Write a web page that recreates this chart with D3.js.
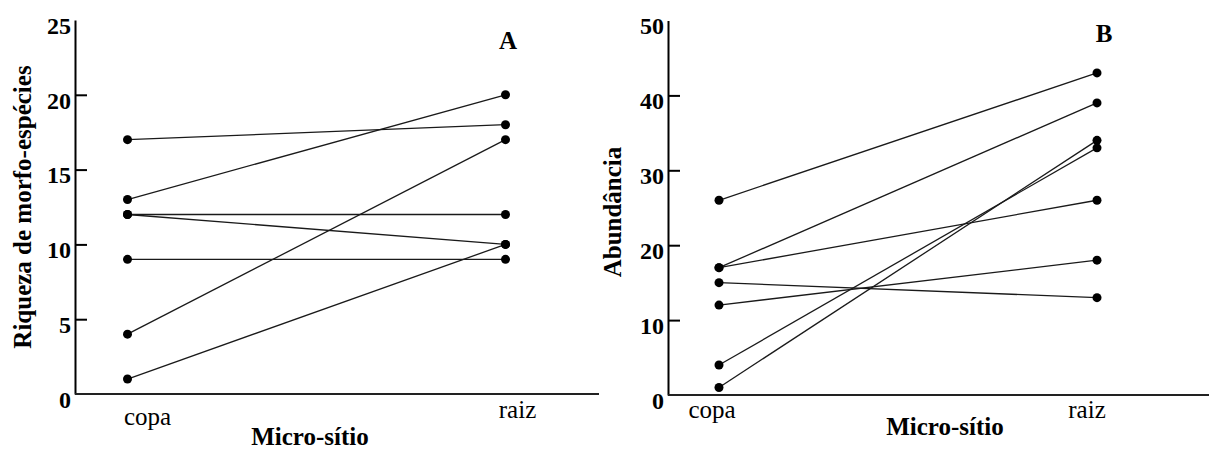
<!DOCTYPE html>
<html>
<head>
<meta charset="utf-8">
<script src="https://cdn.jsdelivr.net/npm/d3@7"></script>
<style>
  body { margin: 0; background: #fff; }
  svg { display: block; font-family: "Liberation Serif", "Times New Roman", serif; }
</style>
</head>
<body>
<svg id="chart" width="1209" height="457"></svg>
<script>
// categories shared by both panels
const sites = ["copa", "raiz"];

// panel A: richness of morpho-species, one pair [copa, raiz] per line
const richnessCopa = [17, 13, 12, 12, 9, 4, 1];
const richnessRaiz = [18, 20, 12, 10, 9, 17, 10];
const richnessTicks = [0, 5, 10, 15, 20, 25];

// panel B: abundance
const abundCopa = [26, 17, 17, 15, 12, 4, 1];
const abundRaiz = [43, 39, 26, 13, 18, 33, 34];
const abundTicks = [0, 10, 20, 30, 40, 50];

const svg = d3.select("#chart");

function drawPanel(cfg) {
    const g = svg.append("g");

    const y = d3.scaleLinear().domain(cfg.yDomain).range([cfg.y0, cfg.y1]);
    const x = d3.scalePoint().domain(sites).range([cfg.xCopa, cfg.xRaiz]);

    // y axis, ticks pointing inward, no tick at the ends
    const yAxis = g.append("g")
        .attr("transform", `translate(${cfg.axisX},0)`)
        .call(d3.axisLeft(y).tickValues(cfg.ticks).tickSize(-12).tickSizeOuter(0).tickPadding(4))
        .attr("font-family", "Liberation Serif, Times New Roman, serif");
    yAxis.select(".domain").attr("stroke", "#000").attr("stroke-width", 2);
    yAxis.selectAll(".tick line")
        .attr("stroke", "#000")
        .attr("stroke-width", 2)
        .attr("x2", (d) => (d === cfg.yDomain[0] || d === cfg.yDomain[1]) ? 0 : 12);
    yAxis.selectAll(".tick text")
        .attr("dy", "0.55em")
        .style("font-size", "24px")
        .style("font-weight", "bold")
        .attr("fill", "#000");

    // x axis line, no ticks
    g.append("line")
        .attr("x1", cfg.axisX).attr("x2", cfg.axisEnd)
        .attr("y1", y(0)).attr("y2", y(0))
        .attr("stroke", "#222").attr("stroke-width", 2);

    // category labels
    g.selectAll("text.cat")
        .data(sites)
        .enter()
        .append("text")
        .attr("class", "cat")
        .attr("x", (d, i) => x(d) + cfg.labelDx[i])
        .attr("y", (d, i) => cfg.labelY[i])
        .attr("text-anchor", "middle")
        .style("font-size", "25px")
        .text((d) => d);

    // x title
    g.append("text")
        .attr("x", cfg.xTitleX).attr("y", cfg.xTitleY)
        .attr("text-anchor", "middle")
        .style("font-size", "25px").style("font-weight", "bold")
        .text("Micro-sítio");

    // y title
    g.append("text")
        .attr("transform", `translate(${cfg.yTitleX},${cfg.yTitleY}) rotate(-90)`)
        .attr("text-anchor", "middle")
        .style("font-size", "25px").style("font-weight", "bold")
        .text(cfg.yTitle);

    // panel letter
    g.append("text")
        .attr("x", cfg.letterX).attr("y", cfg.letterY)
        .attr("text-anchor", "middle")
        .style("font-size", "25px").style("font-weight", "bold")
        .text(cfg.letter);

    const pairs = cfg.copa.map((v, i) => [v, cfg.raiz[i]]);

    g.selectAll("line.pair")
        .data(pairs)
        .enter()
        .append("line")
        .attr("class", "pair")
        .attr("x1", x("copa")).attr("x2", x("raiz"))
        .attr("y1", (d) => y(d[0])).attr("y2", (d) => y(d[1]))
        .attr("stroke", "#1a1a1a").attr("stroke-width", 1.3);

    const pts = pairs.flatMap((d) => [{s: "copa", v: d[0]}, {s: "raiz", v: d[1]}]);
    g.selectAll("circle")
        .data(pts)
        .enter()
        .append("circle")
        .attr("cx", (d) => x(d.s))
        .attr("cy", (d) => y(d.v))
        .attr("r", 4.5)
        .attr("fill", "#000");
}

drawPanel({
    yDomain: [0, 25], ticks: richnessTicks, y0: 394, y1: 20,
    xCopa: 127.5, xRaiz: 505.5, axisX: 75, axisEnd: 599,
    labelDx: [20, 12], labelY: [425, 418],
    xTitleX: 310, xTitleY: 445,
    yTitle: "Riqueza de morfo-espécies", yTitleX: 31, yTitleY: 207,
    letter: "A", letterX: 508, letterY: 49,
    copa: richnessCopa, raiz: richnessRaiz
});

drawPanel({
    yDomain: [0, 50], ticks: abundTicks, y0: 395, y1: 20.5,
    xCopa: 719, xRaiz: 1097, axisX: 668, axisEnd: 1209,
    labelDx: [-7, -10], labelY: [418, 418],
    xTitleX: 945, xTitleY: 435,
    yTitle: "Abundância", yTitleX: 621, yTitleY: 212,
    letter: "B", letterX: 1104, letterY: 42,
    copa: abundCopa, raiz: abundRaiz
});
</script>
</body>
</html>
